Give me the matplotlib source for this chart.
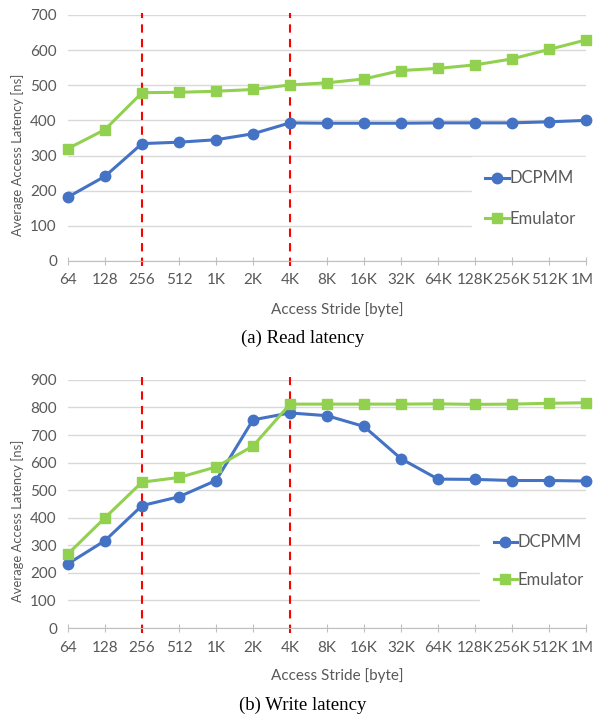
import matplotlib

matplotlib.use("Agg")
import matplotlib.pyplot as plt
import matplotlib.transforms as mtransforms

strides = ["64", "128", "256", "512", "1K", "2K", "4K", "8K", "16K",
           "32K", "64K", "128K", "256K", "512K", "1M"]

read_dcpmm = [182, 241, 334, 338, 345, 362, 393, 392, 392, 392, 393, 393, 393, 396, 400]
read_emulator = [320, 374, 479, 480, 483, 488, 501, 507, 518, 542, 548, 558, 575, 602, 629]

write_dcpmm = [233, 317, 444, 476, 535, 755, 780, 770, 731, 614, 540, 539, 535, 535, 533]
write_emulator = [269, 400, 529, 546, 584, 660, 812, 812, 812, 812, 813, 811, 812, 815, 817]

# boundaries marked with red dashed lines
marker_strides = ["256", "4K"]

BLUE = "#4472C4"
GREEN = "#92D050"
GRAY = "#595959"
FONT = "Lato"


def draw_panel(fig, rect, dcpmm, emulator, ymax, caption, cap_y, xlab_y,
               leg_anchor, leg_spacing):
    ax = fig.add_axes(rect)
    x = list(range(len(strides)))
    ax.plot(x, dcpmm, color=BLUE, marker="o", markersize=7.5, linewidth=2.2,
            label="DCPMM", clip_on=False, zorder=3)
    ax.plot(x, emulator, color=GREEN, marker="s", markersize=6.8, linewidth=2.2,
            label="Emulator", clip_on=False, zorder=3)
    for s in marker_strides:
        ax.axvline(strides.index(s), color="#FF0000", linestyle=(0, (4, 3)),
                   linewidth=1.5, ymin=-0.02, ymax=1.01, clip_on=False, zorder=2)

    ax.set_xlim(0, len(strides) - 1)
    ax.set_ylim(0, ymax)
    ax.set_yticks(range(0, ymax + 1, 100))
    ax.set_xticks(x)
    ax.set_xticklabels(strides)
    ax.grid(axis="y", color="#D9D9D9", linewidth=1)
    ax.set_axisbelow(True)
    for side in ("top", "right", "left"):
        ax.spines[side].set_visible(False)
    ax.spines["bottom"].set_color("#BFBFBF")
    ax.tick_params(axis="y", length=0, pad=8, labelcolor=GRAY, labelsize=11)
    ax.tick_params(axis="x", direction="inout", length=6, color="#BFBFBF",
                   pad=6, labelcolor=GRAY, labelsize=11)
    for lab in ax.get_xticklabels() + ax.get_yticklabels():
        lab.set_fontfamily(FONT)
    # keep the last label ("1M") inside the figure edge
    last = ax.get_xticklabels()[-1]
    last.set_transform(last.get_transform() + mtransforms.ScaledTranslation(
        -4 / 100, 0, fig.dpi_scale_trans))

    ax.set_xlabel("Access Stride [byte]", fontsize=11, color=GRAY,
                  fontfamily=FONT, va="center")
    ax.xaxis.set_label_coords(0.52, xlab_y)
    ax.set_ylabel("Average Access Latency [ns]", fontsize=9.4, color=GRAY,
                  fontfamily=FONT, va="center", ha="center")
    ax.yaxis.set_label_coords(-0.098, 0.43)

    leg = ax.legend(loc="center left", bbox_to_anchor=leg_anchor, frameon=True,
                    fancybox=False, edgecolor="white", framealpha=1,
                    prop={"family": FONT, "size": 12}, labelcolor=GRAY,
                    handlelength=1.4, handletextpad=0.05,
                    labelspacing=leg_spacing, borderpad=0.8)
    leg.set_zorder(4)

    fig.text(0.509, cap_y, caption, ha="center", va="center",
             fontfamily="Liberation Serif", fontsize=13.5)
    return ax


fig = plt.figure(figsize=(5.95, 7.14), dpi=100)

draw_panel(fig, [0.1143, 0.6345, 0.8706, 0.3445], read_dcpmm, read_emulator,
           700, "(a) Read latency", 1 - 338 / 714, -0.199, (0.764, 0.254), 1.45)
draw_panel(fig, [0.1143, 0.1204, 0.8706, 0.3476], write_dcpmm, write_emulator,
           900, "(b) Write latency", 1 - 705 / 714, -0.19, (0.780, 0.270), 1.28)

fig.savefig("out.png", dpi=100)
plt.close(fig)
